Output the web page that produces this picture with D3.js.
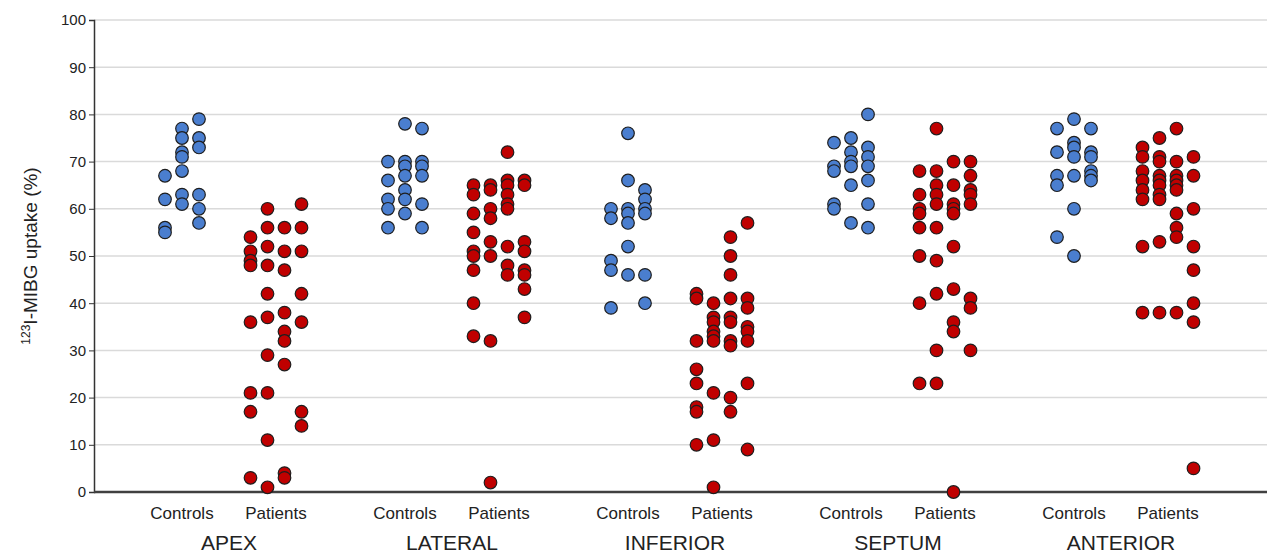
<!DOCTYPE html>
<html>
<head>
<meta charset="utf-8">
<script src="https://cdn.jsdelivr.net/npm/d3@7"></script>
<style>
  body { margin: 0; background: #fff; }
  text { font-family: "Liberation Sans", Arial, sans-serif; fill: #222; }
</style>
</head>
<body>
<div id="chart"></div>
<script>
let svgWidth = 1267;
let svgHeight = 555;

// data: one array per dot column, values in %
const regions = ["APEX", "LATERAL", "INFERIOR", "SEPTUM", "ANTERIOR"];
const groups = ["Controls", "Patients"];
const yTicks = [0, 10, 20, 30, 40, 50, 60, 70, 80, 90, 100];

const apexControls = [[67, 62, 56, 55], [77, 75, 72, 71, 68, 63, 61], [79, 75, 73, 63, 60, 57]];
const apexPatients = [[54, 51, 49, 48, 36, 21, 17, 3], [60, 56, 52, 48, 42, 37, 29, 21, 11, 1], [56, 51, 47, 38, 34, 32, 27, 4, 3], [61, 56, 51, 42, 36, 17, 14]];
const lateralControls = [[70, 66, 62, 60, 56], [78, 70, 69, 67, 64, 62, 59], [77, 70, 69, 67, 61, 56]];
const lateralPatients = [[65, 63, 59, 55, 51, 50, 47, 40, 33], [65, 64, 60, 58, 53, 50, 32, 2], [72, 66, 65, 63, 61, 60, 52, 48, 46], [66, 65, 53, 51, 47, 46, 43, 37]];
const inferiorControls = [[60, 58, 49, 47, 39], [76, 66, 60, 59, 57, 52, 46], [64, 62, 60, 59, 46, 40]];
const inferiorPatients = [[42, 41, 32, 26, 23, 18, 17, 10], [40, 37, 36, 34, 33, 32, 21, 11, 1], [54, 50, 46, 41, 37, 36, 32, 31, 20, 17], [57, 41, 39, 35, 34, 32, 23, 9]];
const septumControls = [[74, 69, 68, 61, 60], [75, 72, 70, 69, 65, 57], [80, 73, 71, 69, 66, 61, 56]];
const septumPatients = [[68, 63, 60, 59, 56, 50, 40, 23], [77, 68, 65, 63, 61, 56, 49, 42, 30, 23], [70, 65, 61, 60, 59, 52, 43, 36, 34, 0], [70, 67, 64, 63, 61, 41, 39, 30]];
const anteriorControls = [[77, 72, 67, 65, 54], [79, 74, 73, 71, 67, 60, 50], [77, 72, 71, 68, 67, 66]];
const anteriorPatients = [[73, 71, 68, 66, 64, 62, 52, 38], [75, 71, 70, 67, 66, 65, 63, 62, 53, 38], [77, 70, 67, 66, 65, 64, 59, 56, 54, 38], [71, 67, 60, 52, 47, 40, 36, 5]];

const seriesByRegion = {
  APEX: [apexControls, apexPatients],
  LATERAL: [lateralControls, lateralPatients],
  INFERIOR: [inferiorControls, inferiorPatients],
  SEPTUM: [septumControls, septumPatients],
  ANTERIOR: [anteriorControls, anteriorPatients]
};

// flatten into points
let points = [];
regions.forEach(function(region) {
  seriesByRegion[region].forEach(function(cols, gi) {
    cols.forEach(function(col, ci) {
      col.forEach(function(v) {
        points.push({ region: region, group: groups[gi], col: ci, ncol: cols.length, value: v });
      });
    });
  });
});

let margin = { top: 20, right: 0, bottom: 63, left: 94 };
let height = svgHeight - margin.top - margin.bottom;

let svg = d3.select("#chart")
  .append("svg")
  .attr("width", svgWidth)
  .attr("height", svgHeight);

let yScale = d3.scaleLinear()
  .domain([0, 100])
  .range([margin.top + height, margin.top]);

// region centres, then controls/patients either side
let regionScale = d3.scalePoint()
  .domain(regions)
  .range([229, 1121]);

let groupScale = d3.scalePoint()
  .domain(groups)
  .range([-47, 47]);

let colStep = 17;

// gridlines
svg.append("g")
  .selectAll("line")
  .data(yTicks.filter(d => d > 0))
  .enter()
  .append("line")
  .attr("x1", margin.left)
  .attr("x2", svgWidth)
  .attr("y1", d => yScale(d))
  .attr("y2", d => yScale(d))
  .attr("stroke", "#dadada")
  .attr("stroke-width", 1.5);

// y axis
let leftAxis = d3.axisLeft(yScale)
  .tickValues(yTicks)
  .tickSize(5)
  .tickPadding(3);

let yAxisG = svg.append("g")
  .attr("transform", `translate(${margin.left}, 0)`)
  .call(leftAxis);

yAxisG.select(".domain").attr("stroke", "#333").attr("stroke-width", 1.5);
yAxisG.selectAll(".tick line").attr("stroke", "#333");
yAxisG.selectAll(".tick text")
  .attr("font-size", 15)
  .attr("font-family", "Liberation Sans, Arial, sans-serif")
  .attr("fill", "#222");

// x axis line
svg.append("line")
  .attr("x1", margin.left)
  .attr("x2", svgWidth)
  .attr("y1", yScale(0))
  .attr("y2", yScale(0))
  .attr("stroke", "#404040")
  .attr("stroke-width", 2.5);

// dots
svg.append("g")
  .selectAll("circle")
  .data(points)
  .enter()
  .append("circle")
  .attr("cx", d => regionScale(d.region) + groupScale(d.group) + (d.col - (d.ncol - 1) / 2) * colStep)
  .attr("cy", d => yScale(d.value))
  .attr("r", 6.3)
  .attr("fill", d => d.group === "Controls" ? "#4a7ecf" : "#c00000")
  .attr("stroke", "#1e1e1e")
  .attr("stroke-width", 1.2);

// group labels
regions.forEach(function(region) {
  groups.forEach(function(g) {
    svg.append("text")
      .attr("x", regionScale(region) + groupScale(g))
      .attr("y", 519)
      .attr("text-anchor", "middle")
      .attr("font-size", 17)
      .text(g);
  });
  svg.append("text")
    .attr("x", regionScale(region))
    .attr("y", 550)
    .attr("text-anchor", "middle")
    .attr("font-size", 21)
    .text(region);
});

// y axis title
let yTitle = svg.append("text")
  .attr("transform", `translate(37, ${yScale(50)}) rotate(-90)`)
  .attr("text-anchor", "middle")
  .attr("font-size", 19);
yTitle.append("tspan")
  .attr("font-size", 12)
  .attr("dy", -7)
  .text("123");
yTitle.append("tspan")
  .attr("dy", 7)
  .text("I-MIBG uptake (%)");
</script>
</body>
</html>
